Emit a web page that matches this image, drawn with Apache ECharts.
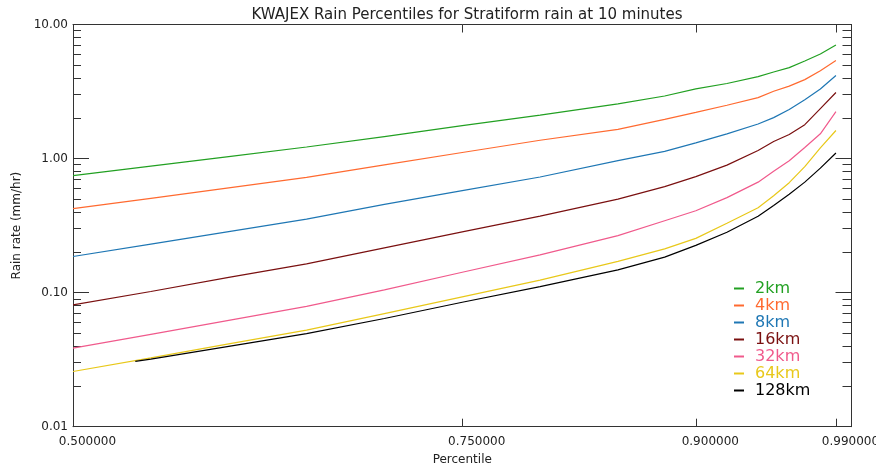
<!DOCTYPE html>
<html>
<head>
<meta charset="utf-8">
<script src="https://cdn.jsdelivr.net/npm/echarts@6/dist/echarts.min.js"></script>
<style>
html,body{margin:0;padding:0;background:#fff;}
#chart{width:876px;height:471px;}
</style>
</head>
<body>
<div id="chart"></div>
<script>
// Percentile sample points (x) and rain rates (mm/hr)
const percentiles = [0.50,0.55,0.60,0.65,0.70,0.75,0.80,0.85,0.88,0.90,0.92,0.94,0.95,0.96,0.97,0.98,0.99];
const percentiles128 = [0.54,0.55,0.60,0.65,0.70,0.75,0.80,0.85,0.88,0.90,0.92,0.94,0.95,0.96,0.97,0.98,0.99];
const r2km   = [0.745,0.879,1.035,1.22,1.46,1.76,2.11,2.56,2.93,3.31,3.63,4.09,4.42,4.77,5.34,6.02,7.03];
const r4km   = [0.423,0.505,0.605,0.724,0.897,1.11,1.37,1.65,1.96,2.21,2.50,2.85,3.18,3.47,3.88,4.52,5.38];
const r8km   = [0.186,0.230,0.285,0.353,0.456,0.577,0.729,0.964,1.13,1.31,1.53,1.81,2.02,2.32,2.75,3.30,4.16];
const r16km  = [0.081,0.102,0.130,0.164,0.216,0.284,0.372,0.498,0.617,0.733,0.893,1.15,1.34,1.51,1.79,2.36,3.11];
const r32km  = [0.0385,0.0489,0.0621,0.0789,0.105,0.142,0.191,0.266,0.344,0.408,0.511,0.667,0.805,0.964,1.21,1.53,2.24];
const r64km  = [0.0258,0.0326,0.0415,0.0526,0.0697,0.0930,0.124,0.171,0.212,0.254,0.329,0.430,0.528,0.661,0.870,1.20,1.62];
const r128km = [0.0307,0.0319,0.0397,0.0495,0.0641,0.0848,0.111,0.148,0.184,0.225,0.282,0.371,0.447,0.542,0.667,0.848,1.10];

const seriesNames = ['2km','4km','8km','16km','32km','64km','128km'];
const seriesColors = ['#22a022','#ff6a30','#1f77b4','#7a1010','#f05a8c','#e8c81a','#000000'];
const xTickValues = [0.5,0.75,0.9,0.99];
const yMajorTicks = [0.01,0.1,1,10];
const yMinorTicks = [0.02,0.03,0.04,0.05,0.06,0.07,0.08,0.09,0.2,0.3,0.4,0.5,0.6,0.7,0.8,0.9,2,3,4,5,6,7,8,9];

const seriesValues = [r2km,r4km,r8km,r16km,r32km,r64km,r128km];
const seriesX = [percentiles,percentiles,percentiles,percentiles,percentiles,percentiles,percentiles128];

const FONT = 'DejaVu Sans';
const AXC = '#333';

const chart = echarts.init(document.getElementById('chart'), null, {renderer:'canvas'});

function yAxisDef(position, ticks, len, showLabel, showLine){
  return {
    type:'log', logBase:10, min:0.01, max:10, position:position,
    axisLine:{show:showLine, lineStyle:{color:AXC,width:1}},
    axisTick:{show:true, inside:true, length:len, customValues:ticks, lineStyle:{color:AXC,width:1}},
    axisLabel:{show:showLabel, customValues:yMajorTicks, formatter:v=>Number(v).toFixed(2),
      fontFamily:FONT, fontSize:12, color:'#222', margin:5},
    splitLine:{show:false}, minorTick:{show:false},
    name: showLabel ? 'Rain rate (mm/hr)' : '',
    nameLocation:'middle', nameGap:50, nameRotate:90,
    nameTextStyle:{fontFamily:FONT, fontSize:12, color:'#222'}
  };
}

const option = {
  animation:false,
  backgroundColor:'#fff',
  title:{
    text:'KWAJEX Rain Percentiles for Stratiform rain at 10 minutes',
    left:462, top:3, textAlign:'center',
    textStyle:{fontFamily:FONT, fontSize:15, fontWeight:'normal', color:'#222'}
  },
  grid:{left:73, right:24.5, top:24.5, bottom:44.3, containLabel:false, outerBoundsMode:'none'},
  legend:{
    orient:'vertical', left:734, top:280, padding:0, icon:'rect', itemWidth:10, itemHeight:2, itemGap:0,
    textStyle:{fontFamily:FONT, fontSize:16, lineHeight:17, padding:[0,0,0,6]},
    data: seriesNames.map((n,i)=>({name:n, textStyle:{color:seriesColors[i]}}))
  },
  xAxis:[
    {
      type:'value', min:0.5, max:1.0, position:'bottom',
      axisLine:{show:true, lineStyle:{color:AXC,width:1}},
      axisTick:{show:true, inside:true, length:8, customValues:xTickValues, lineStyle:{color:AXC}},
      axisLabel:{customValues:xTickValues, formatter:v=>Number(v).toFixed(6), fontFamily:FONT, fontSize:12,
        color:'#222', margin:9, align:'center', padding:[0,0,0,29], hideOverlap:false},
      splitLine:{show:false},
      name:'Percentile', nameLocation:'middle', nameGap:27,
      nameTextStyle:{fontFamily:FONT, fontSize:12, color:'#222'}
    },
    {
      type:'value', min:0.5, max:1.0, position:'top',
      axisLine:{show:true, lineStyle:{color:AXC,width:1}},
      axisTick:{show:true, inside:true, length:8, customValues:xTickValues, lineStyle:{color:AXC}},
      axisLabel:{show:false}, splitLine:{show:false}
    }
  ],
  yAxis:[
    yAxisDef('left', yMajorTicks, 16, true, true),
    yAxisDef('left', yMinorTicks, 8, false, false),
    yAxisDef('right', yMajorTicks, 16, false, true),
    yAxisDef('right', yMinorTicks, 9, false, false)
  ],
  series: seriesNames.map((n,i)=>({
    name:n, type:'line', xAxisIndex:0, yAxisIndex:0, showSymbol:false, symbol:'none',
    lineStyle:{color:seriesColors[i], width:1.2}, itemStyle:{color:seriesColors[i]},
    data: seriesX[i].map((p,j)=>[p, seriesValues[i][j]])
  }))
};
chart.setOption(option);
</script>
</body>
</html>
